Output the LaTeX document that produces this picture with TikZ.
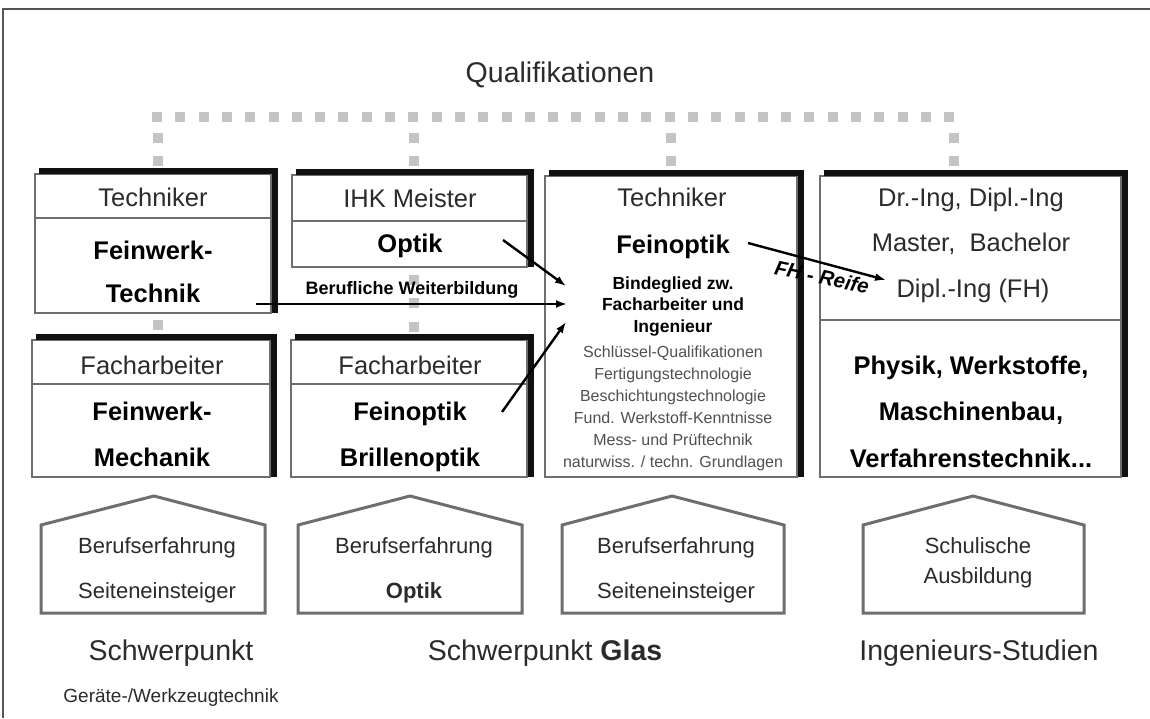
\documentclass[tikz,border=0pt]{standalone}
\usepackage{fontspec}
\setmainfont{Liberation Sans}
\usetikzlibrary{arrows.meta,calc}
\newcommand\myfs[1]{\fontsize{#1}{#1}\selectfont}
\definecolor{boxgray}{HTML}{6E6E6E}
\definecolor{dotgray}{HTML}{C4C4C4}
\definecolor{txt}{HTML}{2B2B2B}
\definecolor{smallc}{HTML}{505050}
\definecolor{shade}{HTML}{111111}
\definecolor{framec}{HTML}{555555}
\begin{document}
\begin{tikzpicture}[x=1pt,y=-1pt,
  gbox/.style={draw=boxgray, line width=2.5pt, fill=white, rectangle, inner sep=0pt, outer sep=0pt, anchor=north west},
  shad/.style={draw=shade, line width=6pt, line join=miter},
  divl/.style={draw=boxgray, line width=2pt},
  dots/.style={draw=dotgray, line width=10pt, dash pattern=on 10pt off 13.3pt},
  arr/.style={draw=black, line width=2.4pt, -{Latex[length=11pt,width=8pt]}},
  house/.style={draw=boxgray, line width=3pt, line join=miter},
  t/.style={inner sep=0pt, anchor=base, text=txt, font=\myfs{25.5}},
  tb/.style={inner sep=0pt, anchor=base, text=black, font=\myfs{25.5}\bfseries},
  sb/.style={inner sep=0pt, anchor=base, text=black, font=\myfs{17.5}\bfseries},
  sm/.style={inner sep=0pt, anchor=base, text=smallc, font=\myfs{16}},
  ht/.style={inner sep=0pt, anchor=base, text=txt, font=\myfs{22}},
  big/.style={inner sep=0pt, anchor=base, text=txt, font=\myfs{28.5}}
]
\useasboundingbox (0,0) rectangle (1150,718);
\fill[white] (0,0) rectangle (1150,718);
\draw[framec, line width=2pt] (3,718) -- (3,9) -- (1150,9);

% title
\node[big] (qual) at (560,82) {Qualifikationen};

% dotted qualification lines
\coordinate (dl) at (152,117);
\coordinate (dr) at (960,117);
\draw[dots] (dl) -- (dr);
\coordinate (v1a) at (158,133); \coordinate (v1b) at (158,172);
\coordinate (v2a) at (414,133); \coordinate (v2b) at (414,172);
\coordinate (v3a) at (671,133); \coordinate (v3b) at (671,172);
\coordinate (v4a) at (954,133); \coordinate (v4b) at (954,172);
\draw[dots] (v1a) -- (v1b);
\draw[dots] (v2a) -- (v2b);
\draw[dots] (v3a) -- (v3b);
\draw[dots] (v4a) -- (v4b);
\coordinate (v5a) at (158,320); \coordinate (v5b) at (158,338);
\coordinate (v6a) at (414,275); \coordinate (v6b) at (414,338);
\draw[dots] (v5a) -- (v5b);
\draw[dots] (v6a) -- (v6b);

% boxes
\node[gbox, minimum width=236pt, minimum height=139pt] (b1) at (35,174) {};
\node[gbox, minimum width=235pt, minimum height=92pt] (b2) at (292,175) {};
\node[gbox, minimum width=252pt, minimum height=301pt] (b3) at (545,176) {};
\node[gbox, minimum width=301pt, minimum height=301pt] (b4) at (820,176) {};
\node[gbox, minimum width=238pt, minimum height=137pt] (b5) at (32,340) {};
\node[gbox, minimum width=236pt, minimum height=137pt] (b6) at (291,340) {};
\foreach \b in {b1,b2,b3,b4,b5,b6}{
  \draw[shad] ($(\b.north west)+(3.5,-3.5)$) -| ($(\b.south east)+(3.5,0)$);
}
\draw[divl] (35,218) -- (271,218);
\draw[divl] (292,221) -- (527,221);
\draw[divl] (820,320) -- (1121,320);
\draw[divl] (32,384) -- (270,384);
\draw[divl] (291,384) -- (527,384);

% box 1
\node[t]  (b1a) at (153,206) {Techniker};
\node[tb] (b1b) at (153,259) {Feinwerk-};
\node[tb] (b1c) at (153,302) {Technik};
% box 2
\node[t]  (b2a) at (410,207) {IHK Meister};
\node[tb] (b2b) at (410,252) {Optik};
\node[inner sep=0pt, anchor=base, text=black, font=\myfs{18}\bfseries] (bw) at (412,294) {Berufliche Weiterbildung};
% box 3
\node[t]  (b3a) at (672,206) {Techniker};
\node[tb] (b3b) at (673,253) {Feinoptik};
\node[sb] (b3c) at (673,289) {Bindeglied zw.};
\node[sb] (b3d) at (673,310) {Facharbeiter und};
\node[sb] (b3e) at (673,332) {Ingenieur};
\node[sm] (b3f) at (673,357) {Schlüssel-Qualifikationen};
\node[sm] (b3g) at (673,379) {Fertigungstechnologie};
\node[sm] (b3h) at (673,401) {Beschichtungstechnologie};
\node[sm] (b3i) at (673,423) {Fund. Werkstoff-Kenntnisse};
\node[sm] (b3j) at (673,445) {Mess- und Prüftechnik};
\node[sm] (b3k) at (673,467) {naturwiss. / techn. Grundlagen};
% box 4
\node[t]  (b4a) at (971,206) {Dr.-Ing, Dipl.-Ing};
\node[t]  (b4b) at (971,251) {Master,\ \ Bachelor};
\node[t]  (b4c) at (973,297) {Dipl.-Ing (FH)};
\node[tb] (b4d) at (971,374) {Physik, Werkstoffe,};
\node[tb] (b4e) at (971,420) {Maschinenbau,};
\node[tb] (b4f) at (971,467) {Verfahrenstechnik...};
% box 5
\node[t]  (b5a) at (152,374) {Facharbeiter};
\node[tb] (b5b) at (152,420) {Feinwerk-};
\node[tb] (b5c) at (152,466) {Mechanik};
% box 6
\node[t]  (b6a) at (410,374) {Facharbeiter};
\node[tb] (b6b) at (410,420) {Feinoptik};
\node[tb] (b6c) at (410,466) {Brillenoptik};

% arrows
\coordinate (a1s) at (503,240); \coordinate (a1e) at (566,286);
\coordinate (a2s) at (256,304); \coordinate (a2e) at (567,304);
\coordinate (a3s) at (502,412); \coordinate (a3e) at (566,322);
\coordinate (a4s) at (748,243); \coordinate (a4e) at (886,280);
\draw[arr] (a1s) -- (a1e);
\draw[arr] (a2s) -- (a2e);
\draw[arr] (a3s) -- (a3e);
\draw[arr] (a4s) -- (a4e);
\node[inner sep=0pt, anchor=center, rotate=-12, text=black, font=\myfs{20.5}\bfseries\itshape] (fh) at (822,277) {FH - Reife};

% houses
\draw[house] (41,613) -- (41,525) -- (154,496) -- (265,525) -- (265,613) -- cycle;
\draw[house] (298,613) -- (298,525) -- (410,496) -- (522,525) -- (522,613) -- cycle;
\draw[house] (562,613) -- (562,525) -- (672,496) -- (784,525) -- (784,613) -- cycle;
\draw[house] (863,613) -- (863,525) -- (973,496) -- (1084,525) -- (1084,613) -- cycle;
\node[ht] (h1a) at (157,553) {Berufserfahrung};
\node[ht] (h1b) at (157,598) {Seiteneinsteiger};
\node[ht] (h2a) at (414,553) {Berufserfahrung};
\node[ht, font=\myfs{22}\bfseries] (h2b) at (414,598) {Optik};
\node[ht] (h3a) at (676,553) {Berufserfahrung};
\node[ht] (h3b) at (676,598) {Seiteneinsteiger};
\node[ht] (h4a) at (978,553) {Schulische};
\node[ht] (h4b) at (978,583) {Ausbildung};

% bottom labels
\node[big] (l1) at (171,660) {Schwerpunkt};
\node[inner sep=0pt, anchor=base, text=txt, font=\myfs{19}] (l1b) at (171,702) {Geräte-/Werkzeugtechnik};
\node[big] (l2) at (545,660) {Schwerpunkt \textbf{Glas}};
\node[big] (l3) at (979,660) {Ingenieurs-Studien};
\end{tikzpicture}
\end{document}
